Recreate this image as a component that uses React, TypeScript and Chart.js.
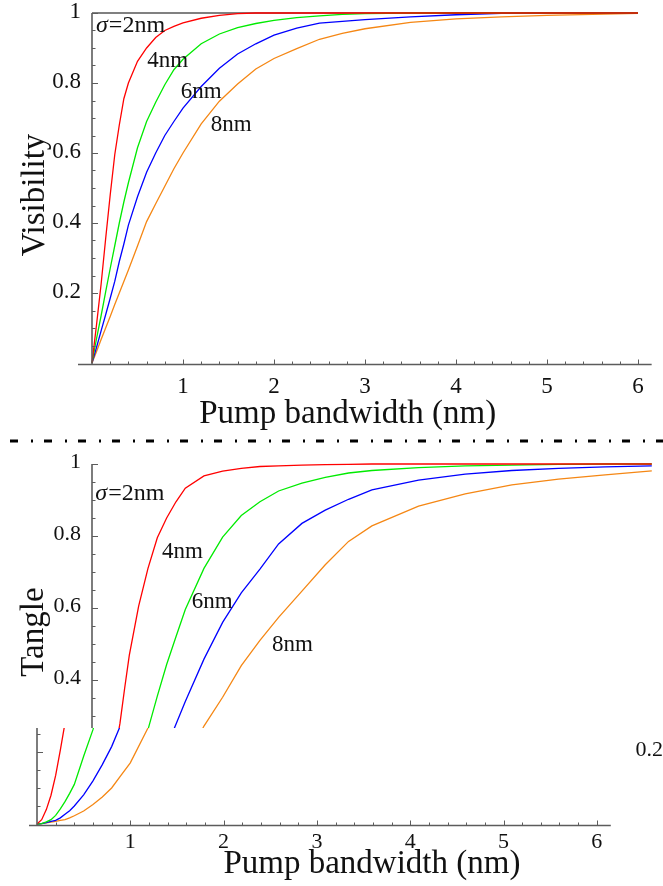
import React, { useEffect, useRef } from "react";
import { Chart, registerables } from "chart.js";
Chart.register(...registerables);

// ---------- data ----------
const bandwidth = [0, 0.05, 0.1, 0.15, 0.2, 0.25, 0.3, 0.35, 0.4, 0.5, 0.6, 0.7, 0.8, 0.9, 1.0, 1.2, 1.4, 1.6, 1.8, 2.0, 2.25, 2.5, 2.75, 3.0, 3.5, 4.0, 4.5, 5.0, 5.5, 6.0];

const visibility2nm = [0, 0.11, 0.225, 0.355, 0.48, 0.595, 0.68, 0.755, 0.8, 0.862, 0.9, 0.93, 0.95, 0.962, 0.972, 0.985, 0.993, 0.998, 1, 1, 1, 1, 1, 1, 1, 1, 1, 1, 1, 1];
const visibility4nm = [0, 0.07, 0.135, 0.203, 0.27, 0.335, 0.4, 0.46, 0.515, 0.615, 0.69, 0.745, 0.795, 0.838, 0.868, 0.912, 0.94, 0.958, 0.97, 0.979, 0.987, 0.992, 0.996, 0.998, 1, 1, 1, 1, 1, 1];
const visibility6nm = [0, 0.045, 0.092, 0.138, 0.185, 0.233, 0.29, 0.34, 0.394, 0.475, 0.545, 0.6, 0.65, 0.69, 0.728, 0.79, 0.842, 0.883, 0.912, 0.937, 0.957, 0.971, 0.976, 0.981, 0.989, 0.995, 0.999, 1, 1, 1];
const visibility8nm = [0, 0.033, 0.067, 0.1, 0.133, 0.167, 0.2, 0.233, 0.266, 0.334, 0.404, 0.455, 0.505, 0.555, 0.6, 0.683, 0.748, 0.797, 0.84, 0.87, 0.898, 0.925, 0.942, 0.955, 0.973, 0.983, 0.989, 0.993, 0.996, 0.999];

const tangle2nm = [0, 0.012, 0.04, 0.08, 0.135, 0.205, 0.28, 0.377, 0.469, 0.605, 0.71, 0.795, 0.85, 0.895, 0.933, 0.967, 0.98, 0.988, 0.993, 0.995, 0.997, 0.998, 0.999, 1, 1, 1, 1, 1, 1, 1];
const tangle4nm = [0, 0.001, 0.006, 0.012, 0.024, 0.042, 0.062, 0.085, 0.11, 0.188, 0.262, 0.355, 0.443, 0.52, 0.596, 0.71, 0.797, 0.857, 0.895, 0.925, 0.947, 0.963, 0.975, 0.982, 0.99, 0.995, 0.997, 0.999, 1, 1];
const tangle6nm = [0, 0.001, 0.004, 0.007, 0.01, 0.017, 0.027, 0.037, 0.05, 0.081, 0.12, 0.165, 0.215, 0.277, 0.34, 0.458, 0.56, 0.642, 0.708, 0.778, 0.835, 0.872, 0.902, 0.928, 0.955, 0.972, 0.982, 0.988, 0.992, 0.995];
const tangle8nm = [0, 0.001, 0.003, 0.005, 0.007, 0.01, 0.012, 0.017, 0.023, 0.036, 0.054, 0.075, 0.1, 0.135, 0.17, 0.272, 0.352, 0.44, 0.51, 0.574, 0.647, 0.72, 0.785, 0.828, 0.883, 0.917, 0.942, 0.958, 0.97, 0.981];

const referenceX = [0, 6];
const referenceY = [1, 1];

const curveLabels = ["σ=2nm", "4nm", "6nm", "8nm"];
const xTickLabels = ["1", "2", "3", "4", "5", "6"];
const yTickLabels = ["0.2", "0.4", "0.6", "0.8", "1"];
const xTitle = "Pump bandwidth (nm)";
const topYTitle = "Visibility";
const bottomYTitle = "Tangle";

// label anchor positions in data coordinates
const topLabelX = [0.044, 0.608, 0.975, 1.304];
const topLabelY = [0.947, 0.847, 0.758, 0.663];
const bottomLabelX = [0.036, 0.75, 1.07, 1.93];
const bottomLabelY = [0.9, 0.74, 0.601, 0.48];

// ---------- styling ----------
const SERIF = '"Liberation Serif", "Times New Roman", serif';
const COLORS = ["rgb(255,0,0)", "rgb(0,235,0)", "rgb(0,0,255)", "rgb(245,135,20)"];
const AXIS_COLOR = "#5c5c5c";
const X_MAX = 6.15;

type PanelCfg = {
  tickFont: string;
  xLabelDrop: number;
  xAxisExt: number;
  yTitle: string;
  yTitleX: number;
  yTitleCenter: number;
  xTitleCenter: number;
  xTitleDrop: number;
  labelX: number[];
  labelY: number[];
  separatorY?: number;
  glitch?: { y0: number; y1: number; shift: number; splitX: number; wrapDx: number };
};

function makePlugin(cfg: PanelCfg) {
  return {
    id: "mmaAxes",
    afterDatasetsDraw(chart: any) {
      const { ctx } = chart;
      const x = chart.scales.x;
      const y = chart.scales.y;
      const x0 = x.getPixelForValue(0);
      const yAxis = y.getPixelForValue(0) + 1.5;
      const yTop = y.getPixelForValue(1);
      const xEnd = x.getPixelForValue(X_MAX);
      ctx.save();
      ctx.strokeStyle = AXIS_COLOR;
      ctx.lineWidth = 1.6;
      ctx.beginPath();
      ctx.moveTo(x0 - cfg.xAxisExt, yAxis);
      ctx.lineTo(xEnd, yAxis);
      ctx.stroke();
      ctx.beginPath();
      ctx.moveTo(x0, yAxis);
      ctx.lineTo(x0, yTop);
      ctx.stroke();
      ctx.lineWidth = 1;
      for (let k = 1; k <= 20; k++) {
        const py = Math.round(y.getPixelForValue(k * 0.05)) + 0.5;
        const len = k % 4 === 0 ? 6 : 3.5;
        ctx.beginPath();
        ctx.moveTo(x0, py);
        ctx.lineTo(x0 + len, py);
        ctx.stroke();
      }
      for (let k = 1; k <= 30; k++) {
        const px = Math.round(x.getPixelForValue(k * 0.2)) + 0.5;
        const len = k % 5 === 0 ? 5 : 3;
        ctx.beginPath();
        ctx.moveTo(px, yAxis);
        ctx.lineTo(px, yAxis - len);
        ctx.stroke();
      }
      ctx.fillStyle = "#111";
      ctx.font = cfg.tickFont;
      ctx.textAlign = "right";
      ctx.textBaseline = "middle";
      yTickLabels.forEach((t, i) => {
        ctx.fillText(t, x0 - 11, y.getPixelForValue((i + 1) * 0.2) - 1.5);
      });
      ctx.textAlign = "center";
      ctx.textBaseline = "alphabetic";
      xTickLabels.forEach((t, i) => {
        ctx.fillText(t, x.getPixelForValue(i + 1), yAxis + cfg.xLabelDrop);
      });
      ctx.font = `33px ${SERIF}`;
      ctx.fillText(xTitle, x.getPixelForValue(cfg.xTitleCenter), yAxis + cfg.xTitleDrop);
      ctx.save();
      ctx.translate(cfg.yTitleX, y.getPixelForValue(cfg.yTitleCenter));
      ctx.rotate(-Math.PI / 2);
      ctx.fillText(cfg.yTitle, 0, 0);
      ctx.restore();
      // curve labels
      ctx.textAlign = "left";
      curveLabels.forEach((lab, i) => {
        const px = x.getPixelForValue(cfg.labelX[i]);
        const py = y.getPixelForValue(cfg.labelY[i]);
        if (lab.startsWith("σ")) {
          ctx.font = `italic 24px ${SERIF}`;
          ctx.fillText("σ", px, py);
          const w = ctx.measureText("σ").width;
          ctx.font = `24px ${SERIF}`;
          ctx.fillText(lab.slice(1), px + w + 1, py);
        } else {
          ctx.font = `23px ${SERIF}`;
          ctx.fillText(lab, px, py);
        }
      });
      ctx.restore();
    },
    afterDraw(chart: any) {
      const { ctx, canvas } = chart;
      if (cfg.separatorY !== undefined) {
        ctx.save();
        ctx.strokeStyle = "#000";
        ctx.lineWidth = 3;
        ctx.setLineDash([8, 13, 2, 11]);
        ctx.beginPath();
        ctx.moveTo(10, cfg.separatorY);
        ctx.lineTo(canvas.width, cfg.separatorY);
        ctx.stroke();
        ctx.restore();
      }
      if (cfg.glitch) {
        // the lower strip of the reference is displaced sideways, with its left edge wrapped to the right
        const g = cfg.glitch;
        const h = g.y1 - g.y0;
        const off = document.createElement("canvas");
        off.width = canvas.width;
        off.height = canvas.height;
        off.getContext("2d")!.drawImage(canvas, 0, 0);
        ctx.save();
        ctx.setTransform(1, 0, 0, 1, 0, 0);
        ctx.clearRect(0, g.y0, canvas.width, h);
        const w = canvas.width - g.splitX;
        ctx.drawImage(off, g.splitX, g.y0, w, h, g.splitX - g.shift, g.y0, w, h);
        ctx.drawImage(off, 0, g.y0, g.splitX, h, g.wrapDx, g.y0, g.splitX, h);
        ctx.restore();
      }
    },
  };
}

const pts = (xs: number[], ys: number[]) => xs.map((b, i) => ({ x: b, y: ys[i] }));

function makeConfig(series: number[][], withReference: boolean, padding: any, cfg: PanelCfg): any {
  const datasets: any[] = series.map((ys, i) => ({
    data: pts(bandwidth, ys),
    borderColor: COLORS[i],
    borderWidth: 1.3,
    pointRadius: 0,
    tension: 0,
    fill: false,
    clip: false,
    order: i,
  }));
  if (withReference) {
    datasets.push({
      data: pts(referenceX, referenceY),
      borderColor: "#808080",
      borderWidth: 2,
      pointRadius: 0,
      fill: false,
      clip: false,
      order: 10,
    });
  }
  return {
    type: "line",
    data: { datasets },
    options: {
      animation: false,
      responsive: false,
      devicePixelRatio: 1,
      layout: { padding },
      plugins: { legend: { display: false }, tooltip: { enabled: false } },
      scales: {
        x: { type: "linear", min: 0, max: X_MAX, display: false },
        y: { type: "linear", min: 0, max: 1, display: false },
      },
    },
    plugins: [makePlugin(cfg)],
  };
}

export default function App() {
  const topRef = useRef<HTMLCanvasElement>(null);
  const botRef = useRef<HTMLCanvasElement>(null);

  useEffect(() => {
    const topCfg: PanelCfg = {
      tickFont: `23px ${SERIF}`,
      xLabelDrop: 28.5,
      xAxisExt: 14,
      yTitle: topYTitle,
      yTitleX: 44,
      yTitleCenter: 0.48,
      xTitleCenter: 2.81,
      xTitleDrop: 58,
      labelX: topLabelX,
      labelY: topLabelY,
      separatorY: 441,
    };
    const botCfg: PanelCfg = {
      tickFont: `22px ${SERIF}`,
      xLabelDrop: 22,
      xAxisExt: 8,
      yTitle: bottomYTitle,
      yTitleX: 43,
      yTitleCenter: 0.533,
      xTitleCenter: 3.0,
      xTitleDrop: 47,
      labelX: bottomLabelX,
      labelY: bottomLabelY,
      glitch: { y0: 283, y1: 404, shift: 55, splitX: 83, wrapDx: 582 },
    };
    const c1 = new Chart(
      topRef.current!,
      makeConfig([visibility2nm, visibility4nm, visibility6nm, visibility8nm], true,
        { left: 92, top: 13, right: 663 - (92 + X_MAX * 91), bottom: 445 - 363 }, topCfg)
    );
    const c2 = new Chart(
      botRef.current!,
      makeConfig([tangle2nm, tangle4nm, tangle6nm, tangle8nm], false,
        { left: 92, top: 19, right: 700 - (92 + X_MAX * 93.3), bottom: 441 - 379 }, botCfg)
    );
    return () => {
      c1.destroy();
      c2.destroy();
    };
  }, []);

  return (
    <div style={{ position: "absolute", left: 0, top: 0, width: 663, height: 886, overflow: "hidden", background: "#fff" }}>
      <canvas ref={topRef} width={663} height={445} style={{ position: "absolute", left: 0, top: 0, width: 663, height: 445 }} />
      <canvas ref={botRef} width={700} height={441} style={{ position: "absolute", left: 0, top: 445, width: 700, height: 441 }} />
    </div>
  );
}
